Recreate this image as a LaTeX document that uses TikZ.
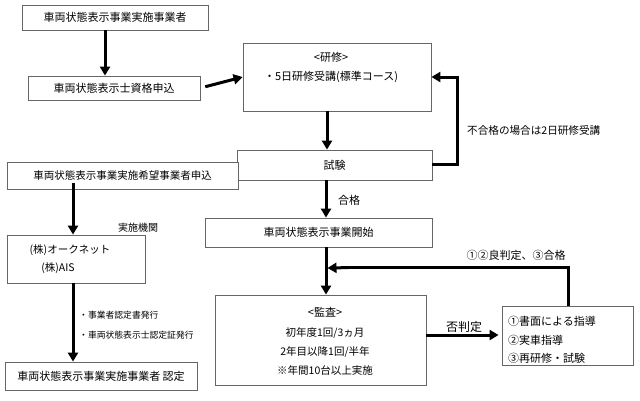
\documentclass[tikz,border=0pt]{standalone}
\usepackage{fontspec}
\setmainfont{Noto Sans CJK JP}
\usetikzlibrary{arrows.meta,calc}
\begin{document}
\begin{tikzpicture}[x=1pt,y=-1pt,
  box/.style={draw=black!60,line width=0.8pt,fill=white,inner sep=0pt,font=\fontsize{11}{13}\selectfont},
  arr/.style={line width=3pt,-{Triangle[width=10pt,length=9pt]}},
  thick line/.style={line width=3pt},
  lbl/.style={font=\fontsize{11}{13}\selectfont,inner sep=0pt},
  small/.style={font=\fontsize{8.8}{10}\selectfont,inner sep=0pt,anchor=west}]
\useasboundingbox (0,0) rectangle (640,400);
% boxes
\node[box,minimum width=186pt,minimum height=25pt] (b1) at (115,17.5) {車両状態表示事業実施事業者};
\node[box,minimum width=172pt,minimum height=24pt] (b2) at (114,88) {車両状態表示士資格申込};
\node[box,minimum width=188pt,minimum height=68pt] (ken) at (337,77) {};
\node[font=\fontsize{11}{13}\selectfont,inner sep=0pt] (kent) at (331,57) {<研修>};
\node[font=\fontsize{11}{13}\selectfont,inner sep=0pt] (kenb) at (331,77) {・5日研修受講(標準コース)};
\node[box,minimum width=195pt,minimum height=30pt] (shi) at (334.5,165) {試験};
\node[box,minimum width=227pt,minimum height=29pt] (kai) at (318.5,232.5) {車両状態表示事業開始};
\node[box,minimum width=211pt,minimum height=90pt] (kan) at (320.5,340) {};
\node[font=\fontsize{11}{13}\selectfont,inner sep=0pt] (k1) at (325,312) {<監査>};
\node[font=\fontsize{10.5}{13}\selectfont,inner sep=0pt] (k2) at (325,333) {初年度1回/3ヵ月};
\node[font=\fontsize{10.5}{13}\selectfont,inner sep=0pt] (k3) at (325,352) {2年目以降1回/半年};
\node[font=\fontsize{10.5}{13}\selectfont,inner sep=0pt] (k4) at (325,370) {※年間10台以上実施};
\node[box,minimum width=131pt,minimum height=59pt] (shido) at (567.5,335.5) {};
\node[font=\fontsize{11}{13}\selectfont,inner sep=0pt,anchor=west] (s1) at (508,321) {①書面による指導};
\node[font=\fontsize{11}{13}\selectfont,inner sep=0pt,anchor=west] (s2) at (508,340) {②実車指導};
\node[font=\fontsize{11}{13}\selectfont,inner sep=0pt,anchor=west] (s3) at (508,358) {③再研修・試験};
\node[box,minimum width=231pt,minimum height=27pt,font=\fontsize{10.5}{12}\selectfont] (kib) at (122.5,175.5) {車両状態表示事業実施希望事業者申込};
\node[box,minimum width=138pt,minimum height=48pt] (kab) at (76,259) {};
\node[font=\fontsize{10.5}{13}\selectfont,inner sep=0pt] (kab1) at (70,250) {(株)オークネット};
\node[font=\fontsize{10.5}{13}\selectfont,inner sep=0pt] (kab2) at (58,268) {(株)AIS};
\node[box,minimum width=192pt,minimum height=28pt] (nin) at (101,376) {車両状態表示事業実施事業者\ 認定};
% labels
\node[lbl,anchor=west,font=\fontsize{10.6}{12}\selectfont] (lf) at (467,130) {不合格の場合は2日研修受講};
\node[lbl,anchor=west] (lg) at (338,200) {合格};
\node[lbl] (lr) at (516,255) {①②良判定、③合格};
\node[lbl,font=\fontsize{12}{14}\selectfont] (lh) at (464,327) {否判定};
\node[small,font=\fontsize{10}{12}\selectfont] (lj) at (118,228) {実施機関};
\node[small] (ln1) at (79,315) {・事業者認定書発行};
\node[small] (ln2) at (79,335) {・車両状態表示士認定証発行};
% connectors
\draw[arr] ([xshift=-10pt]b1.south) -- ([xshift=-9pt]b2.north);
\draw[arr,shorten <=5pt] (b2.east) -- (ken.west);
\draw[arr] ([xshift=-10pt]ken.south) -- ([xshift=-7.5pt]shi.north);
\draw[thick line] ([yshift=1pt]shi.east) -- ++(25,0) coordinate (fb) -- (fb |- ken.east);
\draw[arr] ([xshift=1.5pt]fb |- ken.east) -- (ken.east);
\draw[arr] ([xshift=-8.5pt]shi.south) -- ([xshift=7.5pt]kai.north);
\draw[arr] ([xshift=7.5pt]kai.south) -- ([xshift=5.5pt]kan.north);
\coordinate (jn) at ([xshift=9pt]kai.south |- 0,268);
\draw[thick line] ([xshift=0.5pt]shido.north) -- ++(0,-38) coordinate (tr) -- ([xshift=20pt]jn |- tr);
\draw[arr] ([xshift=21pt]jn |- tr) -- (jn);
\draw[arr,shorten >=3pt] ([yshift=5pt]kan.east) -- ([yshift=5pt]kan.east -| shido.west);
\draw[arr] ([xshift=-3pt,yshift=6pt]kab.north |- kib.south) -- ([xshift=-3pt]kab.north);
\draw[arr] ([xshift=-3pt]kab.south) -- ([xshift=-28pt]nin.north);
\end{tikzpicture}
\end{document}
